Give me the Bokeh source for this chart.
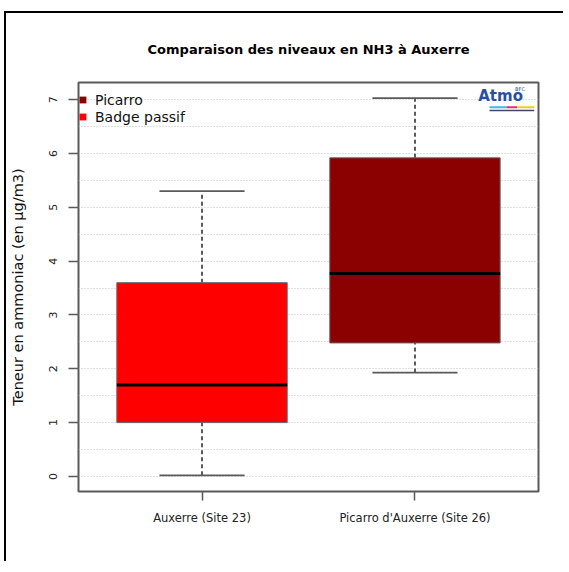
from bokeh.plotting import figure
from bokeh.models import (Range1d, FixedTicker, Legend, LegendItem, Label, ColumnDataSource)
from bokeh.embed import file_html
from bokeh.resources import INLINE

# ---- data ----
categories = ["Auxerre (Site 23)", "Picarro d'Auxerre (Site 26)"]
positions = [1, 2]
whisker_low = [0.02, 1.93]
q1 = [1.00, 2.48]
median = [1.70, 3.77]
q3 = [3.60, 5.92]
whisker_high = [5.30, 7.03]
fill_colors = ["#FF0000", "#8B0000"]
legend_labels = ["Picarro", "Badge passif"]
legend_index = [1, 0]   # which box colour each legend entry uses
y_ticks = [0, 1, 2, 3, 4, 5, 6, 7]
grid_ticks = [0, 0.5, 1, 1.5, 2, 2.5, 3, 3.5, 4, 4.5, 5, 5.5, 6, 6.5, 7]

BOX_W = 0.8
CAP_W = 0.4
FONT = "DejaVu Sans"

src = ColumnDataSource(dict(
    x=positions, lo=whisker_low, q1=q1, med=median, q3=q3, hi=whisker_high,
    color=fill_colors,
    xl=[p - BOX_W / 2 for p in positions], xr=[p + BOX_W / 2 for p in positions],
    cl=[p - CAP_W / 2 for p in positions], cr=[p + CAP_W / 2 for p in positions],
))

p = figure(frame_width=460, frame_height=409,
           x_range=Range1d(0.42, 2.58), y_range=Range1d(-0.28, 7.32),
           output_backend="svg", toolbar_location=None,
           min_border_left=72, min_border_right=25,
           min_border_top=69, min_border_bottom=70,
           title="Comparaison des niveaux en NH3 à Auxerre")
# outer black frame of the picture
p.styles = {"margin-left": "4px", "margin-top": "11px",
            "border-left": "2px solid black", "border-top": "2px solid black"}

p.title.align = "center"
p.title.text_font = FONT
p.title.text_font_size = "13px"
p.title.text_font_style = "bold"
p.title.text_color = "#000000"
p.title.standoff = 51

p.outline_line_color = "#5a5a5a"
p.outline_line_width = 2

# grid
p.xgrid.visible = False
p.ygrid.ticker = FixedTicker(ticks=grid_ticks)
p.ygrid.grid_line_color = "#bdbdbd"
p.ygrid.grid_line_dash = "1 2"
p.ygrid.grid_line_width = 1

# axes
p.yaxis.ticker = FixedTicker(ticks=y_ticks)
p.yaxis.major_label_orientation = "vertical"
p.yaxis.axis_label = "Teneur en ammoniac (en µg/m3)"
p.yaxis.axis_label_text_font = FONT
p.yaxis.axis_label_text_font_size = "14.5px"
p.yaxis.axis_label_text_font_style = "normal"
p.yaxis.axis_label_text_color = "#111111"
p.yaxis.axis_label_standoff = 21
p.yaxis.major_label_standoff = 11

p.xaxis.ticker = FixedTicker(ticks=positions)
p.xaxis.major_label_overrides = {pos: c for pos, c in zip(positions, categories)}
p.xaxis.major_label_standoff = 10

for ax in (p.xaxis[0], p.yaxis[0]):
    ax.axis_line_color = None
    ax.major_tick_line_color = "#5a5a5a"
    ax.major_tick_line_width = 1.5
    ax.major_tick_in = 0
    ax.major_tick_out = 10
    ax.minor_tick_line_color = None
    ax.major_label_text_font = FONT
    ax.major_label_text_color = "#222222"
p.yaxis.major_label_text_font_size = "11px"
p.xaxis.major_label_text_font_size = "11.5px"
p.xaxis.major_tick_out = 9

# whiskers
p.segment(x0="x", x1="x", y0="q3", y1="hi", source=src,
          line_color="#5a5a5a", line_width=2, line_dash="4 3")
p.segment(x0="x", x1="x", y0="lo", y1="q1", source=src,
          line_color="#5a5a5a", line_width=2, line_dash="4 3")
# caps
p.segment(x0="cl", x1="cr", y0="hi", y1="hi", source=src,
          line_color="#5a5a5a", line_width=1.8)
p.segment(x0="cl", x1="cr", y0="lo", y1="lo", source=src,
          line_color="#5a5a5a", line_width=1.8)
# boxes
p.vbar(x="x", width=BOX_W, bottom="q1", top="q3", source=src,
       fill_color="color", line_color="#666666", line_width=1)
# medians
p.segment(x0="xl", x1="xr", y0="med", y1="med", source=src,
          line_color="#000000", line_width=3)

# legend: square-marker renderer (zero size on the plot) carrying the box colours
swatch = p.scatter(x="x", y="med", source=src, marker="square", size=0,
                   fill_color="color", line_color=None)
items = [LegendItem(label=lab, renderers=[swatch], index=i)
         for lab, i in zip(legend_labels, legend_index)]
legend = Legend(items=items, location=(-4, 366), padding=0, margin=0, spacing=0,
                glyph_width=17, glyph_height=17, label_height=17,
                label_standoff=4, label_text_font=FONT, label_text_font_size="14px",
                label_text_color="#111111",
                border_line_alpha=0, background_fill_alpha=0)
p.add_layout(legend, "center")

# logo (decoration)
p.add_layout(Label(x=2.297, y=7.07, text="Atmo", text_font=FONT, text_font_size="15px",
                   text_font_style="bold", text_color="#2b4f9e", text_baseline="middle"))
p.add_layout(Label(x=2.47, y=7.19, text="BFC", text_font=FONT, text_font_size="5px",
                   text_color="#2b4f9e", text_baseline="middle"))
p.segment(x0=[2.35, 2.43, 2.48], x1=[2.43, 2.48, 2.56], y0=[6.86] * 3, y1=[6.86] * 3,
          line_color=["#3fb8e8", "#e0306a", "#e8d020"], line_width=2)
p.segment(x0=[2.35], x1=[2.56], y0=[6.80], y1=[6.80], line_color="#444466", line_width=1.5)

open("out.html", "w").write(file_html(p, INLINE))
